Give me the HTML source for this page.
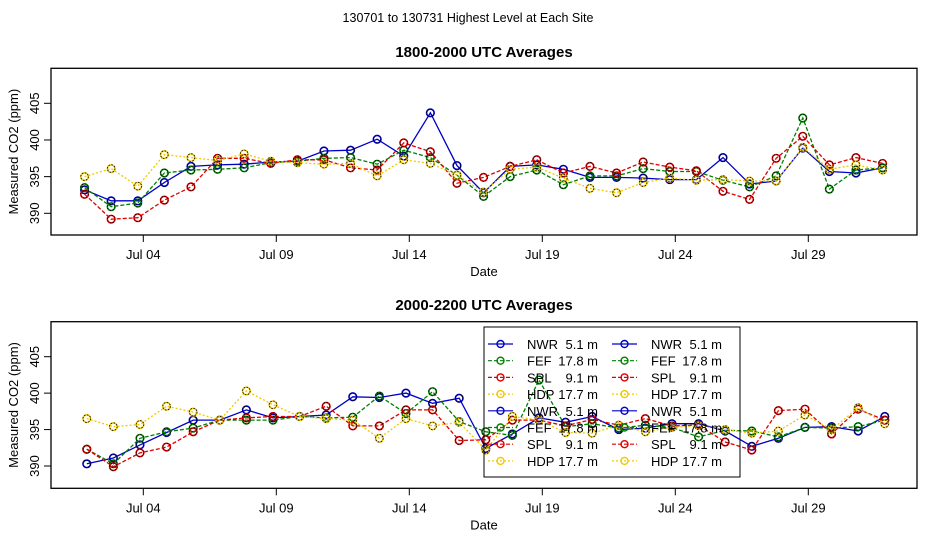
<!DOCTYPE html>
<html><head><meta charset="utf-8"><style>
body{margin:0;background:#fff}
svg{display:block;font-family:"Liberation Sans",sans-serif}
</style></head><body>
<svg id="c" width="936" height="540">
<text x="468" y="22" font-size="12.5" text-anchor="middle">130701  to  130731 Highest Level at Each Site</text>
</svg>
<script>
const days = [1,2,3,4,5,6,7,8,9,10,11,12,13,14,15,16,17,18,19,20,21,22,23,24,25,26,27,28,29,30,31];
const tickDays = [4,9,14,19,24,29];
const tickLabels = ["Jul 04","Jul 09","Jul 14","Jul 19","Jul 24","Jul 29"];
const yTicks = [390,395,400,405];
const seriesNames = ["NWR","FEF","SPL","HDP"];
// 1800-2000 UTC
const topNWR = [393.2,391.7,391.7,394.2,396.4,396.6,396.7,397.0,397.1,398.5,398.6,400.1,397.8,403.7,396.5,392.8,396.4,396.6,396.0,394.9,394.9,394.8,394.6,394.6,397.6,394.0,394.4,398.9,395.7,395.5,396.2];
const topFEF = [393.5,390.9,391.4,395.5,395.9,396.0,396.2,396.9,397.1,397.5,397.6,396.7,398.6,397.6,395.2,392.3,395.0,395.9,393.9,395.1,395.1,396.1,395.7,395.7,394.5,393.6,395.1,403.0,393.3,395.9,396.2];
const topSPL = [392.6,389.2,389.4,391.8,393.6,397.5,397.5,396.8,397.3,397.3,396.2,395.9,399.6,398.4,394.1,394.9,396.4,397.3,395.5,396.4,395.5,397.0,396.3,395.8,393.0,391.9,397.5,400.5,396.6,397.6,396.8];
const topHDP = [395.0,396.1,393.7,398.0,397.6,397.2,398.1,397.1,396.9,396.7,396.8,395.1,397.3,396.8,395.2,392.9,396.0,396.3,394.8,393.4,392.8,394.2,394.8,394.5,394.6,394.4,394.4,399.0,396.0,396.6,395.9];
// 2000-2200 UTC
const botNWR = [390.3,391.1,392.9,394.6,396.3,396.3,397.7,396.6,396.8,397.0,399.5,399.4,400.0,398.6,399.3,392.4,394.4,396.6,396.0,396.8,395.0,395.2,395.8,395.8,394.8,392.7,393.8,395.3,395.4,394.8,396.8];
const botFEF = [392.3,390.3,393.8,394.7,395.2,396.3,396.3,396.3,396.8,396.6,396.7,399.6,397.2,400.2,396.1,394.7,394.2,401.8,395.4,395.8,395.2,395.6,395.3,394.0,394.9,394.8,394.0,395.3,395.2,395.4,396.3];
const botSPL = [392.3,389.9,391.8,392.6,394.7,396.3,396.6,396.8,396.8,398.2,395.5,395.5,397.7,397.7,393.5,393.6,396.3,396.3,395.5,396.4,395.6,396.5,395.5,395.6,393.3,392.2,397.6,397.8,394.4,397.8,396.3];
const botHDP = [396.5,395.4,395.7,398.2,397.4,396.3,400.3,398.4,396.8,396.5,396.3,393.8,396.5,395.5,396.0,392.2,396.8,396.3,394.6,394.5,395.6,394.7,395.3,395.5,395.0,394.5,394.8,397.0,395.0,398.0,395.8];

const NS="http://www.w3.org/2000/svg";
const svg=document.getElementById('c');
function mk(tag,attrs,parent){const e=document.createElementNS(NS,tag);for(const k in attrs)e.setAttribute(k,attrs[k]);(parent||svg).appendChild(e);return e;}
const colors=["#0000c8","#008000","#e00000","#f0c800"];
const dashes=["none","4,2","4,2","2,2"];
const panels=[
 {top:68.3,bot:235,y405:103.3,y390:213.3,title:"1800-2000 UTC Averages",ty:57,off:19/24,data:[topNWR,topFEF,topSPL,topHDP],name:"top"},
 {top:321.7,bot:488.3,y405:356.7,y390:466,title:"2000-2200 UTC Averages",ty:310,off:21/24,data:[botNWR,botFEF,botSPL,botHDP],name:"bottom"}
];
const L=51,R=917;
function xScale(d){return 143.3+(d-4)*26.6;}
panels.forEach(p=>{
  const yS=v=>p.y390+(v-390)*(p.y405-p.y390)/15;
  const g=mk('g',{});
  
  
  const t=mk('text',{x:484,y:p.ty,'font-size':15,'font-weight':'bold','text-anchor':'middle'},g);
  t.textContent=p.title;
  
  
  const box=mk('rect',{x:L,y:p.top,width:R-L,height:p.bot-p.top,fill:'none',stroke:'#000','stroke-width':1.3},g);
  
  
  tickDays.forEach((d,i)=>{
    const x=xScale(d);
    mk('line',{x1:x,x2:x,y1:p.bot,y2:p.bot+7,stroke:'#000'},g);
    const tl=mk('text',{x:x,y:p.bot+24,'font-size':13,'text-anchor':'middle'},g);
    tl.textContent=tickLabels[i];
    
    
  });
  yTicks.forEach(v=>{
    const y=yS(v);
    mk('line',{x1:L-7,x2:L,y1:y,y2:y,stroke:'#000'},g);
    const tl=mk('text',{x:0,y:0,'font-size':13,'text-anchor':'middle',transform:`translate(${L-12},${y}) rotate(-90)`},g);
    tl.textContent=v;
    
    
  });
  const yl=mk('text',{x:0,y:0,'font-size':13,'text-anchor':'middle',transform:`translate(18,${(p.top+p.bot)/2}) rotate(-90)`},g);
  yl.textContent='Measured CO2 (ppm)';
  
  
  const xl=mk('text',{x:484,y:p.bot+41,'font-size':13,'text-anchor':'middle'},g);
  xl.textContent='Date';
  
  
  p.data.forEach((ser,si)=>{
    const pts=ser.map((v,i)=>xScale(days[i]+p.off).toFixed(1)+','+yS(v).toFixed(1));
    const pl=mk('polyline',{points:pts.join(' '),fill:'none',stroke:colors[si],'stroke-width':1.3,'stroke-dasharray':dashes[si]},g);
    
    
    ser.forEach((v,i)=>{
      const c=mk('circle',{cx:xScale(days[i]+p.off),cy:yS(v),r:3.8,fill:'none',stroke:colors[si],'stroke-width':1.6},g);
      
      
      mk('circle',{cx:xScale(days[i]+p.off),cy:yS(v),r:3.8,fill:'none',stroke:'#000','stroke-width':0.8,'stroke-dasharray':'1.5,1.5'},g);
    });
  });
});
// legend
const lg=mk('g',{});


mk('rect',{x:484,y:327,width:256,height:150,fill:'none',stroke:'#000','stroke-width':1},lg);
const heights=["5.1 m","17.8 m","9.1 m","17.7 m"];
for(let r=0;r<8;r++){
  const si=r%4, y=344+r*16.7;
  [488,612].forEach(x0=>{
    mk('line',{x1:x0,x2:x0+25,y1:y,y2:y,stroke:colors[si],'stroke-width':1.2,'stroke-dasharray':dashes[si]},lg);
    mk('circle',{cx:x0+12.5,cy:y,r:3.5,fill:'none',stroke:colors[si],'stroke-width':1.4},lg);
    const t1=mk('text',{x:x0+39,y:y+5,'font-size':13},lg);
    t1.textContent=seriesNames[si];
    
    
    const t2=mk('text',{x:x0+110,y:y+5,'font-size':13,'text-anchor':'end'},lg);
    t2.textContent=heights[si];
    
    
  });
}
</script>
</body></html>
